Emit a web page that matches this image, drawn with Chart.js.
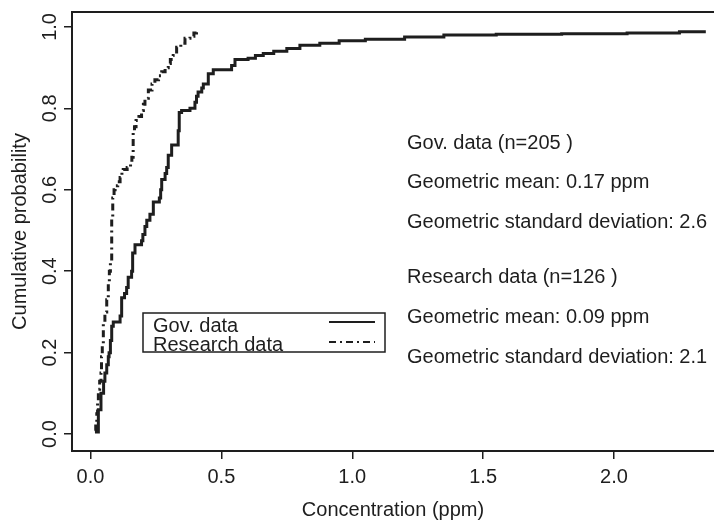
<!DOCTYPE html>
<html>
<head>
<meta charset="utf-8">
<script src="https://cdn.jsdelivr.net/npm/chart.js@4.4.1/dist/chart.umd.min.js"></script>
<style>
  html, body { margin:0; padding:0; background:#fff; }
  #wrap { width:714px; height:522px; }
</style>
</head>
<body>
<div id="wrap"><canvas id="grafico"></canvas></div>
<script>
// ------------------- DADOS -------------------
// ECDF corners (concentration in ppm, cumulative probability)
const govConc = [0.017,0.030,0.040,0.050,0.055,0.062,0.068,0.071,0.076,0.081,0.087,0.113,0.119,0.130,0.138,0.144,0.157,0.161,0.170,0.195,0.200,0.208,0.215,0.227,0.240,0.263,0.268,0.272,0.285,0.291,0.297,0.310,0.335,0.339,0.348,0.380,0.399,0.405,0.411,0.425,0.431,0.450,0.469,0.539,0.552,0.602,0.630,0.660,0.700,0.750,0.800,0.876,0.950,1.050,1.200,1.350,1.550,1.800,2.050,2.250,2.345];
const govProb = [0.005,0.060,0.100,0.130,0.150,0.170,0.190,0.200,0.230,0.265,0.275,0.290,0.335,0.345,0.360,0.385,0.400,0.445,0.465,0.475,0.490,0.510,0.525,0.540,0.570,0.580,0.600,0.625,0.640,0.655,0.685,0.710,0.745,0.790,0.795,0.800,0.815,0.830,0.840,0.850,0.860,0.885,0.895,0.905,0.920,0.923,0.930,0.935,0.940,0.947,0.955,0.960,0.966,0.970,0.975,0.980,0.982,0.983,0.985,0.988,0.992];

const resConc = [0.017,0.020,0.024,0.027,0.030,0.035,0.040,0.042,0.045,0.049,0.055,0.062,0.068,0.072,0.076,0.081,0.085,0.090,0.094,0.104,0.113,0.120,0.125,0.140,0.153,0.158,0.163,0.168,0.174,0.185,0.195,0.202,0.208,0.221,0.235,0.246,0.260,0.272,0.285,0.297,0.305,0.316,0.329,0.345,0.361,0.380,0.395,0.405];
const resProb = [0.008,0.030,0.050,0.080,0.110,0.130,0.150,0.190,0.220,0.270,0.300,0.330,0.375,0.400,0.420,0.530,0.580,0.600,0.610,0.620,0.630,0.645,0.650,0.655,0.665,0.680,0.740,0.755,0.770,0.780,0.795,0.810,0.825,0.845,0.860,0.870,0.880,0.890,0.900,0.910,0.920,0.930,0.950,0.960,0.972,0.977,0.985,0.992];

const xTicks = [0, 0.5, 1.0, 1.5, 2.0];
const yTicks = [0, 0.2, 0.4, 0.6, 0.8, 1.0];

const legendLabels = ["Gov. data", "Research data"];
const govNotes = ["Gov. data (n=205 )", "Geometric mean: 0.17 ppm", "Geometric standard deviation: 2.6"];
const resNotes = ["Research data (n=126 )", "Geometric mean: 0.09 ppm", "Geometric standard deviation: 2.1"];

// ------------------- ESTILO -------------------
const tinta = "#1e1e1e";
const fonte = '"Liberation Sans", Arial, sans-serif';
const tracoPesquisa = [7, 4, 2, 4];

function pares(xs, ys){
    return xs.map((x,i)=>({x:x, y:ys[i]}));
}

// box around the plot (top, left, bottom) + legend + notes
const extras = {
    id: 'extras',
    afterDraw(chart){
        const ctx = chart.ctx;
        const a = chart.chartArea;
        ctx.save();
        ctx.strokeStyle = tinta;
        ctx.lineWidth = 2;
        ctx.beginPath();
        ctx.moveTo(a.right + 2, a.top);
        ctx.lineTo(a.left, a.top);
        ctx.lineTo(a.left, a.bottom);
        ctx.lineTo(a.right + 2, a.bottom);
        ctx.stroke();

        // legenda
        ctx.lineWidth = 1.5;
        ctx.strokeRect(143, 313, 242, 39);
        ctx.fillStyle = tinta;
        ctx.font = '20px ' + fonte;
        ctx.textBaseline = 'middle';
        ctx.textAlign = 'left';
        ctx.fillText(legendLabels[0], 153, 326);
        ctx.fillText(legendLabels[1], 153, 345);
        ctx.lineWidth = 2;
        ctx.beginPath();
        ctx.moveTo(329, 322); ctx.lineTo(375, 322);
        ctx.stroke();
        ctx.setLineDash(tracoPesquisa);
        ctx.beginPath();
        ctx.moveTo(329, 342); ctx.lineTo(375, 342);
        ctx.stroke();
        ctx.setLineDash([]);

        // notas
        govNotes.forEach((t,i)=> ctx.fillText(t, 407, 143 + i*39.5));
        resNotes.forEach((t,i)=> ctx.fillText(t, 407, 277 + i*40));
        ctx.restore();
    }
};

new Chart(document.getElementById('grafico'), {
    type: 'line',
    data: {
        datasets: [
            {
                label: legendLabels[0],
                data: pares(govConc, govProb),
                borderColor: tinta,
                borderWidth: 3,
                stepped: true,
                pointRadius: 0,
                fill: false
            },
            {
                label: legendLabels[1],
                data: pares(resConc, resProb),
                borderColor: tinta,
                borderWidth: 3,
                borderDash: tracoPesquisa,
                stepped: true,
                pointRadius: 0,
                fill: false
            }
        ]
    },
    options: {
        responsive: true,
        maintainAspectRatio: false,
        animation: false,
        layout: { padding: { left: 0, top: 10, right: 0, bottom: 0 } },
        plugins: { legend: { display: false }, tooltip: { enabled: false } },
        scales: {
            x: {
                type: 'linear',
                min: -0.0707,
                max: 2.382,
                afterBuildTicks: s => { s.ticks = xTicks.map(v=>({value:v})); },
                afterFit: s => { s.height = 71; },
                grid: { display: true, drawOnChartArea: false, drawTicks: true, tickLength: 8, color: tinta, lineWidth: 1.5 },
                border: { display: false },
                ticks: {
                    autoSkip: false,
                    maxRotation: 0,
                    padding: 6,
                    color: tinta,
                    font: { family: fonte, size: 20 },
                    callback: v => Number(v).toFixed(1)
                },
                title: {
                    display: true,
                    text: 'Concentration (ppm)',
                    color: tinta,
                    font: { family: fonte, size: 20 },
                    padding: { top: 0, bottom: 0 }
                }
            },
            y: {
                type: 'linear',
                min: -0.0416,
                max: 1.0367,
                afterBuildTicks: s => { s.ticks = yTicks.map(v=>({value:v})); },
                afterFit: s => { s.width = 72; },
                grid: { display: true, drawOnChartArea: false, drawTicks: true, tickLength: 8, color: tinta, lineWidth: 1.5 },
                border: { display: false },
                ticks: {
                    autoSkip: false,
                    minRotation: 90,
                    maxRotation: 90,
                    crossAlign: 'center',
                    padding: 0,
                    color: tinta,
                    font: { family: fonte, size: 20 },
                    callback: v => Number(v).toFixed(1)
                },
                title: {
                    display: true,
                    text: 'Cumulative probability',
                    color: tinta,
                    font: { family: fonte, size: 20 },
                    padding: { top: 8, bottom: 0 }
                }
            }
        }
    },
    plugins: [extras]
});
</script>
</body>
</html>
